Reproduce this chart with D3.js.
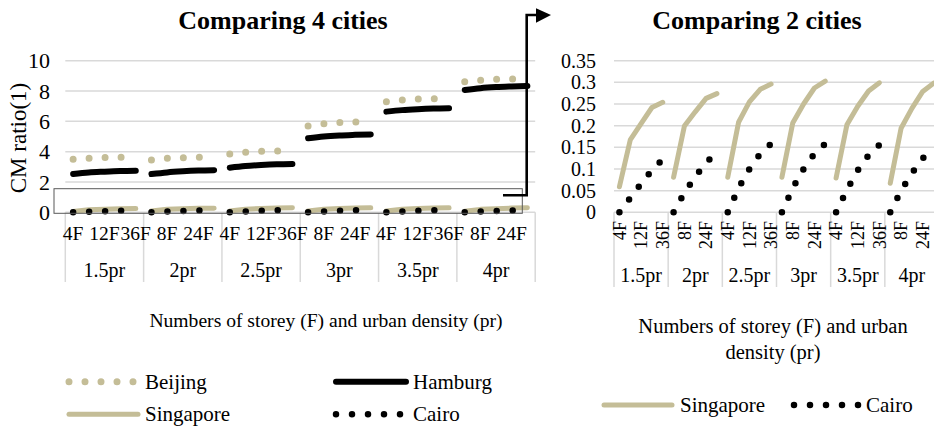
<!DOCTYPE html>
<html><head><meta charset="utf-8">
<script src="https://cdn.jsdelivr.net/npm/d3@7"></script>
<style>
body{margin:0;background:#fff;}
svg{display:block;}
svg text{font-family:"Liberation Serif","Times New Roman",serif;}
</style></head><body>
<svg id="chart" width="934" height="426" font-family="Liberation Serif"></svg>
<script>
const groups = ["1.5pr","2pr","2.5pr","3pr","3.5pr","4pr"];
const storeys = ["4F","8F","12F","24F","36F"];
const leftTicks = [0,2,4,6,8,10];
const rightTicks = [0,0.05,0.1,0.15,0.2,0.25,0.3,0.35];
const rightTickLabels = ["0","0.05","0.1","0.15","0.2","0.25","0.3","0.35"];

const beijing = [3.5,3.57,3.61,3.63,3.64, 3.45,3.56,3.6,3.63,3.64, 3.84,3.96,4.02,4.04,4.05,
                 5.69,5.84,5.93,5.95,5.97, 7.3,7.41,7.47,7.49,7.5, 8.61,8.71,8.77,8.79,8.8];
const hamburg = [2.53,2.63,2.68,2.72,2.74, 2.52,2.63,2.7,2.75,2.78, 2.94,3.05,3.12,3.17,3.19,
                 4.88,5.0,5.07,5.11,5.14, 6.64,6.74,6.8,6.84,6.86, 8.07,8.19,8.26,8.3,8.33];
const singapore = [0.059,0.167,0.205,0.242,0.254, 0.081,0.199,0.232,0.263,0.274, 0.081,0.208,0.255,0.284,0.296,
                   0.081,0.206,0.25,0.287,0.303, 0.079,0.202,0.245,0.28,0.299, 0.067,0.194,0.24,0.279,0.298];
const cairo = [0,0.033,0.066,0.097,0.122, 0,0.045,0.082,0.115,0.137, 0,0.056,0.10,0.135,0.158,
               0,0.056,0.10,0.135,0.158, 0,0.052,0.097,0.132,0.156, 0,0.05,0.09,0.125,0.14];

const TAN = "#c4bd97", GRID = "#d9d9d9", FONT = "Liberation Serif";
const cats = [];
groups.forEach(g => storeys.forEach(s => cats.push({g, s, id: g + "|" + s})));

const svg = d3.select("#chart");

function series(name, values){ return {name, values}; }
const styles = {
  Beijing:   {stroke: TAN, width: 7, dash: "0 16", curve: d3.curveLinear},
  Hamburg:   {stroke: "#000", width: 6, dash: null, curve: d3.curveMonotoneX},
  Singapore: {stroke: TAN, width: 5, dash: null, curve: d3.curveLinear},
  Cairo:     {stroke: "#000", width: 6.5, dash: "0 16", curve: d3.curveLinear}
};

function drawPanel(cfg){
  const g = svg.append("g");
  const x = d3.scaleBand().domain(cats.map(c => c.id)).range([cfg.x0, cfg.x1]).padding(0);
  const xg = d3.scaleBand().domain(groups).range([cfg.x0, cfg.x1]).padding(0);
  const y = d3.scaleLinear().domain([0, cfg.ymax]).range([cfg.yBottom, cfg.yTop]);
  const cx = id => x(id) + x.bandwidth()/2;

  g.append("text").attr("x", cfg.titleX).attr("y", 29).attr("text-anchor","middle")
    .attr("font-family", FONT).attr("font-weight","bold").attr("font-size", 26).text(cfg.title);

  g.append("g").selectAll("line").data(cfg.ticks).join("line")
    .attr("x1", cfg.x0).attr("x2", cfg.x1).attr("y1", d => y(d)).attr("y2", d => y(d))
    .attr("stroke", GRID).attr("stroke-width", 1.5);

  const yAxis = d3.axisLeft(y).tickValues(cfg.ticks).tickSize(0).tickPadding(0)
    .tickFormat((d,i) => cfg.tickLabels[i]);
  const ya = g.append("g").attr("transform", `translate(${cfg.yLabelX},0)`).call(yAxis)
    .attr("font-family", FONT).attr("font-size", cfg.tickFont);
  ya.select(".domain").remove();
  ya.selectAll("text").attr("font-family", FONT).attr("font-size", cfg.tickFont).attr("fill","#000").attr("dy","0.33em");

  const bounds = groups.map(gr => xg(gr)).concat([cfg.x1]);
  g.append("g").selectAll("line").data(bounds).join("line")
    .attr("x1", d => d).attr("x2", d => d).attr("y1", cfg.yBottom).attr("y2", cfg.sepBottom)
    .attr("stroke", GRID).attr("stroke-width", 1.5);

  const lab = g.append("g").selectAll("text").data(cats.filter((c,i) => i % 2 === 0)).join("text")
    .attr("font-family", FONT).attr("font-size", cfg.catFont).text(d => d.s);
  if (cfg.rotate){
    lab.attr("transform", d => `translate(${cx(d.id)},${cfg.catY}) rotate(-90)`)
      .attr("text-anchor","end").attr("dy","0.35em");
  } else {
    lab.attr("x", d => cx(d.id)).attr("y", cfg.catY).attr("text-anchor","middle").attr("dy","0.35em");
  }
  g.append("g").selectAll("text").data(groups).join("text")
    .attr("x", d => xg(d) + xg.bandwidth()/2).attr("y", cfg.groupY).attr("dy","0.35em")
    .attr("text-anchor","middle").attr("font-family", FONT).attr("font-size", cfg.groupFont).text(d => d);

  cfg.series.forEach(sr => {
    const st = styles[sr.name];
    const line = d3.line().x(d => cx(d.id)).y(d => y(d.v)).curve(st.curve);
    groups.forEach((gr, gi) => {
      const pts = storeys.map((s, si) => ({id: gr + "|" + s, v: sr.values[gi*5 + si]}));
      g.append("path").attr("d", line(pts)).attr("fill","none")
        .attr("stroke", st.stroke).attr("stroke-width", st.width)
        .attr("stroke-linecap","round").attr("stroke-linejoin","round")
        .attr("stroke-dasharray", st.dash);
    });
  });

  cfg.xTitle.forEach((t, i) => {
    g.append("text").attr("x", cfg.xTitleX).attr("y", cfg.xTitleY + i*26)
      .attr("text-anchor","middle").attr("font-family", FONT).attr("font-size", cfg.xTitleFont).text(t);
  });
  return {x, y, g};
}

drawPanel({
  x0: 65.3, x1: 535.2, yTop: 60.7, yBottom: 212.3, ymax: 10,
  ticks: leftTicks, tickLabels: leftTicks.map(String), yLabelX: 50, tickFont: 22,
  title: "Comparing 4 cities", titleX: 283,
  sepBottom: 282, catY: 233, catFont: 19.5, rotate: false, groupY: 270, groupFont: 20,
  series: [series("Beijing", beijing), series("Hamburg", hamburg), series("Singapore", singapore), series("Cairo", cairo)],
  xTitle: ["Numbers of storey (F) and urban density (pr)"], xTitleX: 326, xTitleY: 327, xTitleFont: 19.6
});
svg.append("text").attr("transform","translate(26,138) rotate(-90)").attr("text-anchor","middle")
  .attr("font-family", FONT).attr("font-size", 23).text("CM ratio(1)");

svg.append("rect").attr("x", 54).attr("y", 188.7).attr("width", 468.3).attr("height", 24.6)
  .attr("fill","none").attr("stroke","#595959").attr("stroke-width", 1);
svg.append("path").attr("d","M503,195.3H526.7V15H538").attr("fill","none").attr("stroke","#000").attr("stroke-width",2.6);
svg.append("path").attr("d","M536,8.3L551,15L536,22.7Z").attr("fill","#000");

drawPanel({
  x0: 614, x1: 939, yTop: 60.7, yBottom: 212.3, ymax: 0.35,
  ticks: rightTicks, tickLabels: rightTickLabels, yLabelX: 596, tickFont: 20,
  title: "Comparing 2 cities", titleX: 757,
  sepBottom: 287, catY: 221, catFont: 18, rotate: true, groupY: 275, groupFont: 20,
  series: [series("Singapore", singapore), series("Cairo", cairo)],
  xTitle: ["Numbers of storey (F) and urban", "density (pr)"], xTitleX: 773, xTitleY: 333, xTitleFont: 20.5
});

function legendItem(x1, x2, y, name, label, tx){
  const st = styles[name];
  svg.append("line").attr("x1", x1).attr("x2", x2).attr("y1", y).attr("y2", y)
    .attr("stroke", st.stroke).attr("stroke-width", st.width).attr("stroke-linecap","round")
    .attr("stroke-dasharray", st.dash);
  svg.append("text").attr("x", tx).attr("y", y).attr("dy","0.33em")
    .attr("font-family", FONT).attr("font-size", 21).text(label);
}
legendItem(69, 138, 381.7, "Beijing", "Beijing", 145);
legendItem(336, 406, 381.7, "Hamburg", "Hamburg", 413);
legendItem(69, 138, 414.3, "Singapore", "Singapore", 145);
legendItem(336, 402, 414.3, "Cairo", "Cairo", 413);
legendItem(604, 672, 405, "Singapore", "Singapore", 680);
legendItem(794, 859, 405, "Cairo", "Cairo", 866);
</script>
</body></html>
